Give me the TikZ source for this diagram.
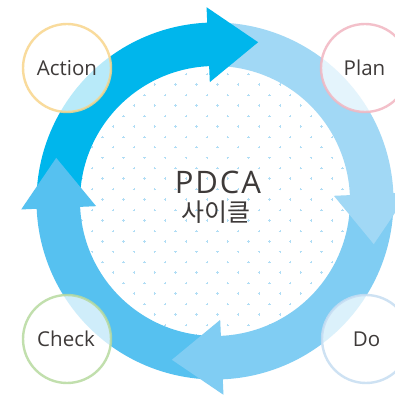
\documentclass[tikz,border=0pt]{standalone}
\usepackage{fontspec}
\setmainfont{Open Sans}
\newfontfamily\titlefont{Open Sans}[LetterSpace=6]
\newfontfamily\krfont{Noto Sans CJK KR}
\definecolor{cA}{HTML}{00B6EC}
\definecolor{cB}{HTML}{A1D8F5}
\definecolor{cC}{HTML}{80CDF3}
\definecolor{cD}{HTML}{56C1F0}
\definecolor{dotc}{HTML}{B0DDF5}
\definecolor{txt}{HTML}{3E3A39}
\definecolor{ringY}{HTML}{F8D58B}
\definecolor{ringP}{HTML}{F2B6C1}
\definecolor{ringG}{HTML}{B7DA9F}
\definecolor{ringB}{HTML}{C6DDF2}
\begin{document}
\begin{tikzpicture}[x=1pt,y=1pt,
  lbl/.style={font=\fontsize{20.5}{24}\selectfont, text=txt, inner sep=0pt, anchor=base},
  badge/.style={circle, minimum size=88pt, inner sep=0pt, line width=2.4pt, fill=white, fill opacity=0.72, draw opacity=0.85},
  dotmark/.style={draw=dotc, line width=0.6pt}]
\useasboundingbox (0,0) rectangle (394,396);
\fill[white] (0,0) rectangle (394,396);
% dotted background
\begin{scope}
  \clip (215,195) circle[radius=137pt];
  \foreach \i in {-7,...,7} {
    \foreach \j in {-4,...,9} {
      \pgfmathsetmacro\xa{217.3+20.85*\i}
      \pgfmathsetmacro\ya{248.7-20.9*\j}
      \pgfmathsetmacro\xb{\xa+10.42}
      \pgfmathsetmacro\yb{\ya-10.45}
      \draw[dotmark] (\xa-1.2,\ya) -- (\xa+1.2,\ya) (\xa,\ya-1.2) -- (\xa,\ya+1.2);
      \draw[dotmark] (\xb-1.2,\yb) -- (\xb+1.2,\yb) (\xb,\yb-1.2) -- (\xb,\yb+1.2);
    }
  }
\end{scope}
% ring
\begin{scope}[shift={(215,195)}]
  \foreach \s/\e/\c in {182.5/92.5/cA, 92.5/2.5/cB, 2.5/-87.5/cC, -87.5/-177.5/cD} {
    \pgfmathsetmacro\ss{\s-1}
    \pgfmathsetmacro\ee{\e-2}
    \fill[\c] (\ss:178.5pt) arc[start angle=\ss, end angle=\ee, radius=178.5pt]
      -- (\ee:135pt) arc[start angle=\ee, end angle=\ss, radius=135pt] -- cycle;
  }
  \foreach \e/\c in {92.5/cA, 2.5/cB, -87.5/cC, -177.5/cD} {
    \pgfmathsetmacro\tp{\e-17.69}
    \fill[\c] (\e:119pt) -- (\tp:164.53pt) -- (\e:194pt) -- cycle;
  }
\end{scope}
% badges
\node[badge, draw=ringY] (act) at (67,328) {};
\node[badge, draw=ringP] (plan) at (365,328) {};
\node[badge, draw=ringG] (chk) at (67,57) {};
\node[badge, draw=ringB] (do) at (366,57) {};
\node[lbl] (actT) at (67,320) {Action};
\node[lbl] (planT) at (364.5,320) {Plan};
\node[lbl] (chkT) at (66,49) {Check};
\node[lbl] (doT) at (366.5,49) {Do};
% center title
\node[font=\titlefont\fontsize{31}{34}\selectfont, text=txt, inner sep=0pt, anchor=base] (pdca) at (218,202) {PDCA};
\node[font=\krfont\fontsize{25}{27}\selectfont, text=txt, inner sep=0pt, anchor=base] (cyc) at (216,174.5) {사이클};
\end{tikzpicture}
\end{document}
